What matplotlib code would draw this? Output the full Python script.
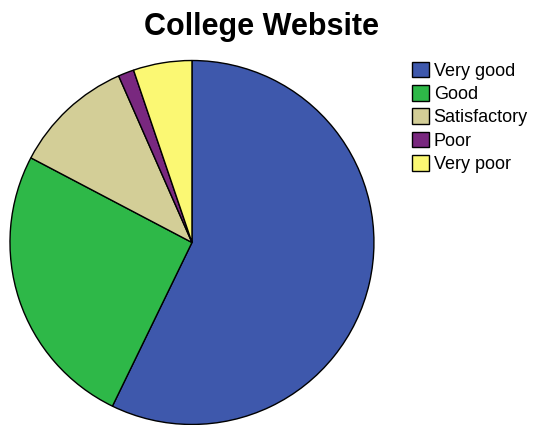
import matplotlib.pyplot as plt

# Ratings of the college website (percent of respondents)
labels = ['Very good', 'Good', 'Satisfactory', 'Poor', 'Very poor']
percent = [57.2, 25.5, 10.7, 1.4, 5.2]
colors = ['#3E58AC', '#2EB848', '#D3CE97', '#79287F', '#FBF873']

plt.rcParams['font.family'] = ['Liberation Sans', 'DejaVu Sans']

fig = plt.figure(figsize=(5.4, 4.25), dpi=100)
ax = fig.add_axes([0.0185, 0.0012, 0.674, 0.8565])

wedges, _ = ax.pie(percent, colors=colors, startangle=90, counterclock=False,
                   wedgeprops={'edgecolor': 'black', 'linewidth': 1.0,
                               'clip_on': False})
ax.set_aspect('equal')
ax.set_xlim(-1, 1)
ax.set_ylim(-1, 1)

fig.text(0.485, 0.937, 'College Website', ha='center', va='center',
         fontsize=22, fontweight='bold')

fig.legend(wedges, labels, loc='upper left', bbox_to_anchor=(0.763, 0.855),
           frameon=False, fontsize=13, handlelength=0.95, handleheight=0.95,
           handletextpad=0.25, labelspacing=0.3, borderpad=0, borderaxespad=0)

fig.savefig('out.png', dpi=100)
